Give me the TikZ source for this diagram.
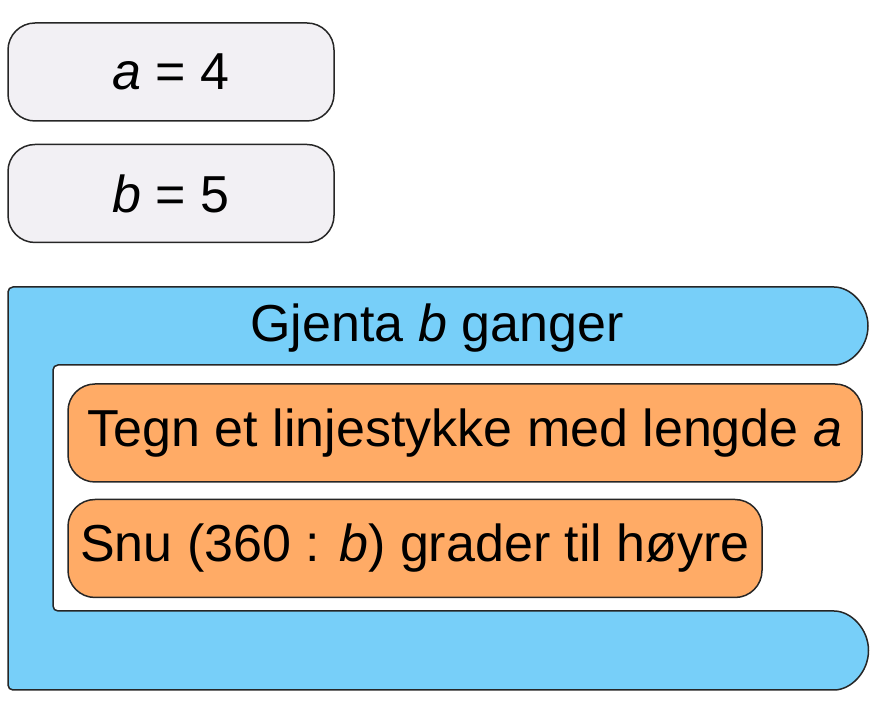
\documentclass[tikz,border=0pt]{standalone}
\usepackage{fontspec}
\setmainfont{Liberation Sans}
\usepackage{xcolor}
\usetikzlibrary{positioning}
\definecolor{varfill}{HTML}{F2F0F4}
\definecolor{loopblue}{HTML}{77CFF9}
\definecolor{cmdorange}{HTML}{FFAB66}
\tikzset{
    x=1pt, y=1pt, % one unit is one pixel of the picture
    every node/.style={font=\fontsize{52}{60}\selectfont, text=black},
    varbox/.style={draw=black!85, line width=1.5pt, fill=varfill, rounded corners=27pt, minimum width=326pt, minimum height=98pt}, % the variable boxes
    cmdbox/.style={draw=black!85, line width=1.5pt, fill=cmdorange, rounded corners=27pt, minimum height=98pt}, % the orange commands
    loopblock/.style={draw=black!85, line width=1.5pt, fill=loopblue, rounded corners=5pt}, % the C shaped block
}

\begin{document}
\begin{tikzpicture}
            \useasboundingbox (0,0) rectangle (870,720);

            % the repeat block
            \draw[loopblock] (8,433) -- (829,433) arc[start angle=90, end angle=-90, radius=39pt]
                -- (53,355) -- (53,109) -- (829,109) arc[start angle=90, end angle=-90, radius=39.5pt]
                -- (8,30) -- cycle;
            \node (G) at (437,392) {Gjenta \textit{b} ganger};

            \node[varbox] (a) at (171,648) {\textit{a} = 4};
            \node[varbox] (b) [below=22pt of a] {\textit{b} = 5};

            \node[cmdbox, minimum width=794pt] (T) at (465,287) {Tegn et linjestykke med lengde \textit{a}};
            \node[cmdbox, minimum width=694pt, anchor=north west] (S) [below=16pt of T.south west, anchor=north west] {Snu (360 : \textit{b}) grader til høyre};
        \end{tikzpicture}
\end{document}
